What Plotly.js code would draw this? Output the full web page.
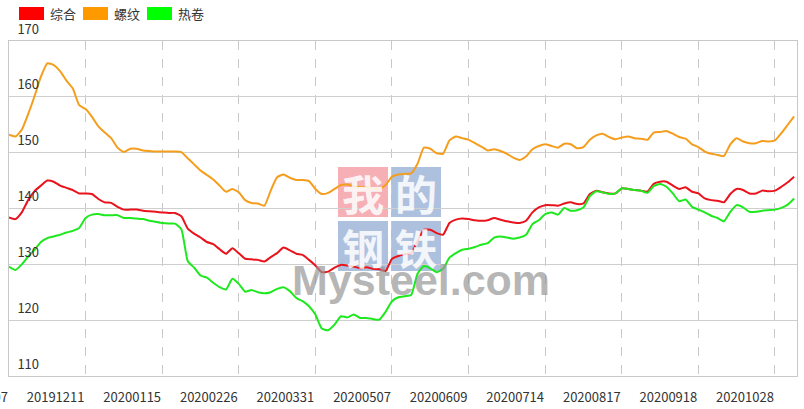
<!DOCTYPE html>
<html>
<head>
<meta charset="utf-8">
<script src="https://cdn.plot.ly/plotly-3.0.1.min.js"></script>
<style>
  html, body { margin: 0; padding: 0; background: #fff; }
  #chart { width: 804px; height: 409px; }
</style>
</head>
<body>
<div id="chart"></div>
<script>
// ---- data (trading-day index, sampled every 2 trading days) ----
const dayStep = 2;
const seriesNames = ['综合', '螺纹', '热卷'];
const tickDays = [0, 24, 48, 72, 96, 120, 144, 168, 192, 216, 240];
const tickLabels = ['20191107', '20191211', '20200115', '20200226', '20200331', '20200507',
                    '20200609', '20200714', '20200817', '20200918', '20201028'];

const composite = [138.4,138.1,139.3,141.5,143.1,144.1,145.0,144.8,144.1,143.7,143.3,142.7,142.7,142.6,141.7,141.1,
  141.0,140.3,139.8,139.8,139.8,139.6,139.5,139.4,139.3,139.2,139.2,138.6,136.4,135.5,134.8,134.0,
  133.6,132.7,131.9,132.9,132.0,131.0,130.9,130.8,130.5,131.3,132.0,133.0,132.5,131.9,131.7,130.8,
  129.8,128.6,128.7,129.4,129.9,129.8,129.6,129.3,129.5,129.2,129.1,128.8,131.0,131.5,131.8,132.0,
  134.2,136.2,136.2,135.6,135.3,137.4,138.0,138.2,138.1,137.9,137.8,137.9,138.3,138.0,137.7,137.5,
  137.4,137.8,139.3,140.2,140.6,140.6,140.5,140.9,141.1,140.8,140.9,142.6,143.2,142.9,142.7,142.7,
  143.6,143.5,143.3,143.2,143.0,144.4,144.8,144.8,144.1,143.5,143.8,143.0,142.7,141.8,141.5,141.4,
  141.1,142.6,143.5,143.3,142.7,142.7,143.2,143.1,143.2,143.9,144.7,145.7];

const rebar = [153.2,152.9,154.1,156.9,160.1,163.6,166.0,165.7,164.6,162.9,161.5,158.5,157.8,156.4,154.7,153.6,
  152.6,150.9,150.1,150.7,150.7,150.4,150.3,150.2,150.2,150.2,150.2,150.1,149.0,147.9,146.8,146.0,
  145.2,144.1,143.0,143.5,142.9,141.5,141.0,140.9,140.5,143.2,145.6,146.1,145.5,145.1,145.1,144.9,
  143.5,142.6,142.8,143.5,144.2,144.3,144.0,143.8,143.8,143.6,143.5,144.2,145.7,146.1,146.2,146.3,
  148.0,150.9,150.7,149.9,149.8,152.2,152.9,152.6,152.3,151.7,151.1,150.4,150.6,150.3,149.8,149.1,
  148.7,149.3,150.6,151.2,151.5,151.2,150.9,151.6,151.5,150.8,151.0,152.3,153.1,153.4,152.8,152.4,
  152.7,152.9,152.6,152.5,152.3,153.6,153.7,153.9,153.4,152.8,152.5,151.5,151.0,150.2,149.8,149.6,
  149.4,151.5,152.6,152.0,151.7,151.7,152.1,152.0,152.2,153.5,155.0,156.5];

const hotRolled = [129.6,129.0,130.0,131.4,132.6,134.0,134.7,135.0,135.3,135.7,136.0,136.5,138.3,138.9,139.0,138.8,
  138.8,138.8,138.3,138.3,138.2,138.1,137.8,137.6,137.4,137.3,137.3,136.3,130.6,129.4,128.0,127.6,
  126.7,125.9,125.5,127.4,126.5,125.1,125.4,125.0,124.8,125.0,125.6,125.9,125.2,124.0,123.4,122.5,
  121.0,118.5,118.2,119.2,120.7,120.5,121.0,120.4,120.4,120.2,120.1,121.5,123.4,124.1,124.3,124.5,
  128.3,129.7,129.3,128.6,129.2,131.2,132.0,132.6,132.8,133.1,133.5,133.8,134.8,135.0,134.8,134.6,
  134.8,135.3,137.2,137.9,139.0,139.3,138.9,140.1,139.6,139.7,140.2,142.2,143.1,142.9,142.6,142.7,
  143.6,143.5,143.3,143.2,142.8,144.0,144.4,143.9,142.7,141.3,141.6,140.3,139.8,139.3,138.7,138.3,
  137.7,139.4,140.6,140.2,139.4,139.4,139.6,139.7,139.8,140.1,140.7,141.8];

// ---- styling ----
const W = 804, H = 409;
const M = { l: 9, r: 7, t: 41, b: 33 };
const PW = W - M.l - M.r, PH = H - M.t - M.b;
const px = x => (x - M.l) / PW;          // pixel -> paper x
const py = y => (H - M.b - y) / PH;      // pixel -> paper y

const lineColors = ['#e8131c', '#f59d1c', '#1ee81e'];
const legendColors = ['#ff0000', '#ff9900', '#00ff00'];
const font = '"Noto Sans CJK SC", "Noto Sans", sans-serif';

const days = composite.map((_, k) => k * dayStep);
const series = [composite, rebar, hotRolled];
const traces = series.map((vals, s) => ({
  type: 'scatter', mode: 'lines', name: seriesNames[s],
  x: days, y: vals,
  line: { color: lineColors[s], width: 2, shape: 'spline', smoothing: 0.5 },
  hoverinfo: 'skip', showlegend: false
}));

const shapes = [];
const annotations = [];
// legend (rects + labels)
const legX = [19, 83, 147];
legX.forEach((x0, s) => {
  shapes.push({ type: 'rect', xref: 'paper', yref: 'paper', x0: px(x0), x1: px(x0 + 25),
    y0: py(20), y1: py(7), fillcolor: legendColors[s], line: { width: 0 } });
  annotations.push({ xref: 'paper', yref: 'paper', x: px(x0 + 29), y: py(13.5), xanchor: 'left',
    yanchor: 'middle', text: seriesNames[s], showarrow: false,
    font: { family: font, size: 13, color: '#333' } });
});
// watermark
const wm = [
  { ch: '我', x0: 338, y0: 167, c: 'rgba(242,155,163,0.8)' },
  { ch: '的', x0: 391, y0: 167, c: 'rgba(145,172,212,0.75)' },
  { ch: '钢', x0: 338, y0: 221, c: 'rgba(145,172,212,0.75)' },
  { ch: '铁', x0: 391, y0: 221, c: 'rgba(145,172,212,0.75)' }
];
wm.forEach(b => {
  shapes.push({ type: 'rect', xref: 'paper', yref: 'paper', layer: 'below',
    x0: px(b.x0), x1: px(b.x0 + 50), y0: py(b.y0 + 50), y1: py(b.y0),
    fillcolor: b.c, line: { width: 0 } });
  annotations.push({ xref: 'paper', yref: 'paper', x: px(b.x0 + 25), y: py(b.y0 + 25),
    xanchor: 'center', yanchor: 'middle', text: b.ch, showarrow: false,
    font: { family: '"Noto Sans CJK SC", sans-serif', size: 42, color: 'rgba(255,255,255,0.85)', weight: 700 } });
});
annotations.push({ xref: 'paper', yref: 'paper', x: px(421), y: py(280),
  xanchor: 'center', yanchor: 'middle', text: 'Mysteel.com', showarrow: false,
  font: { family: '"Liberation Sans", Arial, sans-serif',
          size: 43, color: 'rgba(150,150,150,0.7)', weight: 700 } });

const layout = {
  width: W, height: H, margin: M,
  paper_bgcolor: '#fff', plot_bgcolor: '#fff',
  showlegend: false,
  font: { family: font, size: 13, color: '#333' },
  xaxis: {
    range: [0, 246.9], tickmode: 'array', tickvals: tickDays, ticktext: tickLabels,
    showgrid: true, gridcolor: '#c8c8c8', griddash: 'dash', gridwidth: 1,
    showline: true, linecolor: '#c8c8c8', linewidth: 1, mirror: true,
    zeroline: false, ticks: '', ticklabelshift: -30, ticklabeloverflow: 'allow',
    ticklabelstandoff: 9,
    tickfont: { family: font, size: 13, color: '#333' }
  },
  yaxis: {
    range: [110, 170], tick0: 110, dtick: 10,
    showgrid: true, gridcolor: '#cfcfcf', gridwidth: 1,
    showline: true, linecolor: '#c8c8c8', linewidth: 1, mirror: true,
    zeroline: false, ticks: '', ticklabelposition: 'inside', ticklabelshift: -12,
    ticklabelstandoff: 8, ticklabeloverflow: 'allow',
    tickfont: { family: font, size: 13, color: '#333' }
  },
  shapes: shapes, annotations: annotations
};

Plotly.newPlot('chart', traces, layout, { staticPlot: true, displayModeBar: false });
</script>
</body>
</html>
